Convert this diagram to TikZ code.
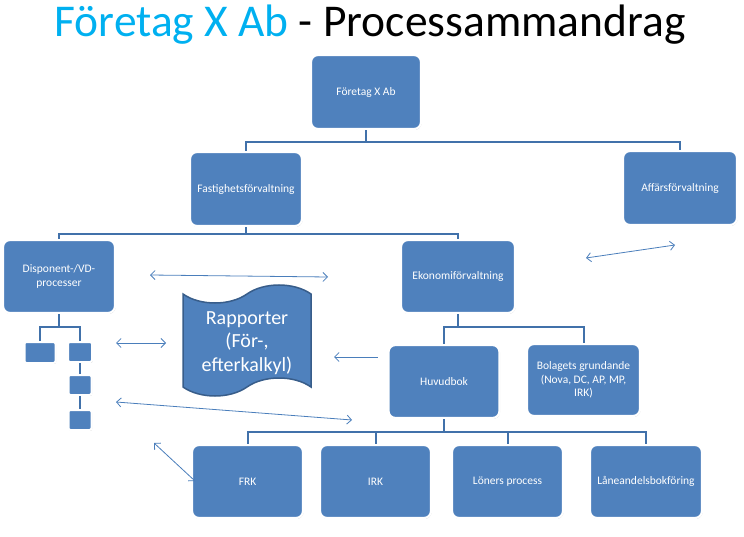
\documentclass[tikz,border=0pt]{standalone}
\usepackage{fontspec}
\setmainfont{Carlito}
\usetikzlibrary{arrows.meta,shadows}
\definecolor{boxblue}{RGB}{79,129,189}
\definecolor{connblue}{RGB}{65,113,170}
\definecolor{arrblue}{RGB}{74,126,187}
\definecolor{tapeedge}{RGB}{56,93,138}
\definecolor{titlecyan}{RGB}{0,176,240}
\tikzset{
  orgbox/.style={draw=white, line width=2.2pt, fill=boxblue, rounded corners=7pt,
    text=white, font=\fontsize{11.5}{13.5}\selectfont, align=center, inner sep=2pt,
    drop shadow={shadow xshift=0.6pt, shadow yshift=-0.9pt, opacity=0.45, fill=black!60}},
  smallbox/.style={draw=white, line width=2pt, fill=boxblue, rounded corners=2pt,
    inner sep=0pt, drop shadow={shadow xshift=0.6pt, shadow yshift=-0.9pt, opacity=0.45, fill=black!60}},
  conn/.style={draw=connblue, line width=2pt},
  dbl/.style={draw=arrblue, line width=0.8pt, {Straight Barb[length=4.5pt,width=9pt]}-{Straight Barb[length=4.5pt,width=9pt]}},
  sgl/.style={draw=arrblue, line width=0.8pt, {Straight Barb[length=4.5pt,width=9pt]}-},
}
\begin{document}
\begin{tikzpicture}[x=1pt,y=-1pt]
\useasboundingbox (0,0) rectangle (744,537);
% title
\node[anchor=base, inner sep=0pt, font=\fontsize{45.5}{50}\selectfont] (title) at (370,37)
  {\textcolor{titlecyan}{Företag X Ab} - Processammandrag};

% boxes
\node[orgbox, minimum width=110pt, minimum height=74pt] (top) at (366,92) {Företag X Ab};
\node[orgbox, minimum width=112pt, minimum height=74pt] (fast) at (246,189) {Fastighetsförvaltning};
\node[orgbox, minimum width=114pt, minimum height=74pt] (aff) at (680,188) {Affärsförvaltning};
\node[orgbox, minimum width=112pt, minimum height=73pt] (disp) at (59,276.5) {Disponent-/VD-\\processer};
\node[orgbox, minimum width=114pt, minimum height=73pt] (eko) at (458,276.5) {Ekonomiförvaltning};
\node[orgbox, minimum width=111pt, minimum height=73pt] (huv) at (444,381.5) {Huvudbok};
\node[orgbox, minimum width=113pt, minimum height=72pt] (bol) at (583.5,380) {Bolagets grundande\\(Nova, DC, AP, MP,\\IRK)};
\node[orgbox, minimum width=111pt, minimum height=73pt] (frk) at (247.5,481.5) {FRK};
\node[orgbox, minimum width=111pt, minimum height=73pt] (irk) at (375.5,481.5) {IRK};
\node[orgbox, minimum width=111pt, minimum height=73pt] (lon) at (507.5,481.5) {Löners process};
\node[orgbox, minimum width=112pt, minimum height=73pt] (lan) at (646,481.5) {Låneandelsbokföring};

\node[smallbox, minimum width=31pt, minimum height=21pt] (s1) at (40,352.5) {};
\node[smallbox, minimum width=24pt, minimum height=20pt] (s2) at (80,352) {};
\node[smallbox, minimum width=23pt, minimum height=20pt] (s3) at (80,385) {};
\node[smallbox, minimum width=23pt, minimum height=20pt] (s4) at (80,420) {};

% connectors
\draw[conn] (top.south) -- ++(0,12) -| (fast.north);
\draw[conn] (top.south) -- ++(0,12) -| (aff.north);
\draw[conn] (fast.south) -- ++(0,7) -| (disp.north);
\draw[conn] (fast.south) -- ++(0,7) -| (eko.north);
\draw[conn] (eko.south) -- ++(0,13) -| (huv.north);
\draw[conn] (eko.south) -- ++(0,13) -| (bol.north);
\draw[conn] (huv.south) -- ++(0,13) -| (frk.north);
\draw[conn] (huv.south) -- ++(0,13) -| (irk.north);
\draw[conn] (huv.south) -- ++(0,13) -| (lon.north);
\draw[conn] (huv.south) -- ++(0,13) -| (lan.north);
\draw[conn] (disp.south) -- ++(0,13) -| (s1.north);
\draw[conn] (disp.south) -- ++(0,13) -| (s2.north);
\draw[conn] (s2.south) -- (s3.north);
\draw[conn] (s3.south) -- (s4.north);

% Rapporter (punched tape)
\draw[fill=boxblue, draw=tapeedge, line width=1.5pt]
  (183,294) .. controls (200,306) and (230,306) .. (247,294)
  .. controls (264,282) and (294,282) .. (311,294)
  -- (311,387)
  .. controls (294,375) and (264,375) .. (247,387)
  .. controls (230,399) and (200,399) .. (183,387) -- cycle;
\node[text=white, align=center, font=\fontsize{20}{23.5}\selectfont] (rap) at (247,343)
  {Rapporter\\(För-,\\efterkalkyl)};

% free arrows
\coordinate (a1l) at (150,275); \coordinate (a1r) at (328,277);
\coordinate (a2l) at (116,343); \coordinate (a2r) at (166,343);
\coordinate (a3l) at (116,402); \coordinate (a3r) at (352,420);
\coordinate (a4l) at (334,357); \coordinate (a4r) at (378,357);
\coordinate (a5l) at (586,258); \coordinate (a5r) at (675,245);
\coordinate (a6l) at (154,443); \coordinate (a6r) at (195,481);
\draw[dbl] (a1l) -- (a1r);
\draw[dbl] (a2l) -- (a2r);
\draw[dbl] (a3l) -- (a3r);
\draw[sgl] (a4l) -- (a4r);
\draw[dbl] (a5l) -- (a5r);
\draw[dbl] (a6l) -- (a6r);
\end{tikzpicture}
\end{document}
